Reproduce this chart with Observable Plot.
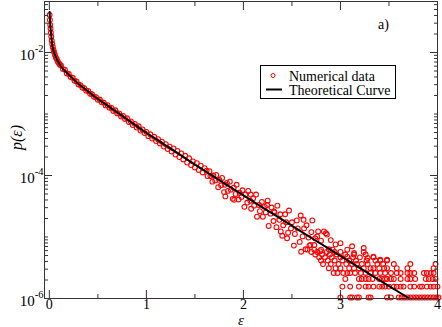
<!DOCTYPE html>
<html><head><meta charset="utf-8">
<script src="https://cdn.jsdelivr.net/npm/d3@7"></script>
<script src="https://cdn.jsdelivr.net/npm/@observablehq/plot@0.6"></script>
<style>
body{margin:0;background:#fff;}
#wrap{position:relative;width:442px;height:327px;}
#overlay{position:absolute;left:0;top:0;pointer-events:none;}
</style></head><body><div id="wrap"></div>
<script>
// ---- Theoretical curve (epsilon, log10 p) ----
const curveEps = [0.003,0.008,0.0175,0.03,0.052,0.08,0.121,0.2,0.292,0.38,0.464,0.55,0.636,0.72,0.807,0.89,0.979,1.15,1.323,1.45,1.557,1.667,1.976,2.3,2.588,2.9,3.103,3.4,3.71];
const curveLog10P = [-1.34,-1.52,-1.685,-1.88,-2.01,-2.12,-2.228,-2.36,-2.498,-2.61,-2.715,-2.81,-2.904,-2.998,-3.094,-3.187,-3.285,-3.46,-3.636,-3.77,-3.88,-3.99,-4.30,-4.62,-4.905,-5.21,-5.41,-5.70,-6.0];

// ---- Numerical data: [epsilon, log10 p] ----
const nearZero = [[0.003,-1.39],[0.006,-1.47],[0.009,-1.55],[0.012,-1.61],[0.016,-1.68],[0.02,-1.74],[0.025,-1.81],[0.03,-1.86],[0.036,-1.91],[0.043,-1.96],[0.05,-2.00],[0.058,-2.04],[0.067,-2.08],[0.077,-2.11],[0.088,-2.15],[0.1,-2.18],[0.11,-2.20]];
const band = [[0.12,-2.21],[0.14,-2.27],[0.16,-2.28],[0.18,-2.34],[0.20,-2.35],[0.22,-2.40],[0.24,-2.41],[0.26,-2.46],[0.28,-2.47],[0.30,-2.52],[0.32,-2.53],[0.34,-2.57],[0.36,-2.58],[0.38,-2.62],[0.40,-2.625],[0.42,-2.67],[0.44,-2.68],[0.46,-2.72],[0.48,-2.725],[0.50,-2.77],[0.52,-2.765],[0.54,-2.81],[0.56,-2.815],[0.58,-2.86],[0.60,-2.855],[0.62,-2.90],[0.64,-2.90],[0.66,-2.95],[0.68,-2.94],[0.70,-2.99],[0.72,-2.99],[0.74,-3.04],[0.76,-3.03],[0.78,-3.08],[0.80,-3.07],[0.82,-3.13],[0.84,-3.12],[0.86,-3.18],[0.88,-3.16],[0.90,-3.22],[0.92,-3.20],[0.94,-3.27],[0.96,-3.25],[0.98,-3.31],[1.00,-3.29],[1.02,-3.36],[1.04,-3.33],[1.06,-3.40],[1.08,-3.37],[1.10,-3.44],[1.12,-3.41],[1.14,-3.48],[1.16,-3.45],[1.18,-3.53],[1.20,-3.49],[1.22,-3.57],[1.24,-3.53],[1.26,-3.61],[1.28,-3.56],[1.30,-3.66],[1.32,-3.60],[1.34,-3.70],[1.36,-3.64],[1.38,-3.74],[1.40,-3.68],[1.42,-3.79],[1.44,-3.72],[1.46,-3.83],[1.48,-3.77],[1.50,-3.87],[1.52,-3.80],[1.54,-3.91],[1.56,-3.84],[1.58,-3.95],[1.60,-3.88]];
const spread = [[1.62,-3.92],[1.63,-4.01],[1.65,-3.93],[1.66,-4.01],[1.68,-4.10],[1.69,-4.00],[1.71,-4.08],[1.72,-3.99],[1.74,-4.19],[1.75,-4.07],[1.77,-4.16],[1.78,-4.04],[1.80,-4.27],[1.81,-4.15],[1.814,-4.34],[1.83,-4.12],[1.84,-4.25],[1.86,-4.10],[1.87,-4.23],[1.89,-4.38],[1.90,-4.20],[1.905,-4.395],[1.92,-4.30],[1.93,-4.15],[1.95,-4.39],[1.96,-4.28],[1.98,-4.35],[1.99,-4.24],[2.01,-4.51],[2.02,-4.31],[2.04,-4.44],[2.05,-4.25],[2.07,-4.41],[2.075,-4.31],[2.08,-4.54],[2.10,-4.37],[2.11,-4.49],[2.13,-4.31],[2.14,-4.67],[2.16,-4.48],[2.17,-4.58],[2.19,-4.43],[2.20,-4.67],[2.22,-4.51],[2.23,-4.60],[2.244,-4.48],[2.25,-4.41],[2.26,-4.82],[2.28,-4.62],[2.29,-4.52],[2.31,-4.74],[2.315,-4.585],[2.32,-4.60],[2.34,-4.84],[2.35,-4.49],[2.37,-4.72],[2.38,-4.63],[2.385,-4.91],[2.40,-4.98],[2.41,-4.81],[2.43,-4.63],[2.44,-4.76],[2.45,-5.02],[2.46,-4.93],[2.47,-4.57],[2.49,-4.86],[2.50,-4.76],[2.52,-5.14],[2.53,-4.95],[2.55,-4.73],[2.56,-4.86],[2.58,-5.08],[2.59,-4.65],[2.595,-5.24],[2.61,-4.99],[2.62,-4.72],[2.625,-4.86],[2.64,-5.20],[2.65,-4.81],[2.67,-5.01],[2.68,-5.14],[2.69,-5.13],[2.70,-4.92],[2.71,-4.73],[2.73,-5.13],[2.74,-5.02],[2.76,-4.99],[2.77,-4.91],[2.79,-5.23],[2.80,-5.06],[2.83,-4.91],[2.85,-4.94],[2.86,-4.96],[2.88,-5.20],[2.90,-5.05],[2.95,-5.12],[3.0,-5.10],[3.12,-5.15],[3.24,-5.18],[3.07,-5.32],[3.14,-5.26],[3.28,-5.34],[3.34,-5.32],[3.41,-5.37],[3.48,-5.37]];
// low-count tail: each row is one histogram level
const tailLevelP = [1.04e-6,1.56e-6,2.08e-6,2.60e-6,3.11e-6,3.63e-6,4.15e-6,4.67e-6,5.19e-6,5.71e-6,6.23e-6];
const tailLevelEps = [
  [3.00,3.10,3.12,3.17,3.19,3.29,3.31,3.48,3.52,3.60,3.63,3.66,3.69,3.72,3.75,3.78,3.81,3.84,3.87,3.90,3.93,3.96,3.99,4.01],
  [3.02,3.10,3.19,3.26,3.29,3.34,3.40,3.43,3.46,3.50,3.55,3.58,3.62,3.65,3.72,3.76,3.82,3.84,3.89,3.93,3.96,4.00],
  [3.05,3.19,3.22,3.26,3.29,3.33,3.40,3.43,3.46,3.48,3.52,3.55,3.62,3.69,3.72,3.77,3.88,3.91,3.95,3.98],
  [2.93,2.97,3.03,3.07,3.10,3.15,3.21,3.26,3.31,3.36,3.41,3.46,3.52,3.58,3.62,3.69,3.72,3.76,3.86,3.89,3.93,3.96],
  [2.88,2.95,3.00,3.09,3.14,3.19,3.24,3.31,3.34,3.40,3.45,3.48,3.58,3.69,3.96],
  [2.82,2.90,2.98,3.06,3.12,3.17,3.22,3.28,3.38,3.44,3.55,3.72,3.98],
  [2.80,2.87,2.94,3.02,3.09,3.16,3.27,3.36,3.41,3.48],
  [2.78,2.84,2.91,3.00,3.13,3.20,3.34],
  [2.74,2.81,2.89,2.96,3.05,3.14,3.26],
  [2.70,2.76,2.86,2.94,3.00,3.24],
  [2.66,2.73,2.80,2.92,3.07]
];

// ---- Axes ----
const xMajorTicks = [0,1,2,3,4];
const xMinorTicks = [0.5,1.5,2.5,3.5];
const yMajorTicks = [1e-6,1e-4,1e-2];
const yMax = 0.0675;
const yMinorTicks = [];
for (let k = -6; k <= -2; k++) for (let n = 1; n <= 9; n++) {
  const v = n * Math.pow(10, k);
  if (v <= yMax && !(n === 1 && k % 2 === 0)) yMinorTicks.push(v);
}
const legendLabels = ["Numerical data", "Theoretical Curve"];

const points = [...nearZero, ...band, ...spread].map(([e, l]) => ({eps: e, p: Math.pow(10, l)}));
tailLevelP.forEach((p, i) => tailLevelEps[i].forEach(e => points.push({eps: e, p})));
const curve = curveEps.map((e, i) => ({eps: e, p: Math.pow(10, curveLog10P[i])}));

const tickStroke = "#333";
const chart = Plot.plot({
  width: 442, height: 327,
  marginLeft: 44, marginRight: 5, marginTop: 1, marginBottom: 29,
  style: {fontFamily: "'Liberation Serif', 'Times New Roman', serif", fontSize: "15px", color: "#000", background: "#fff"},
  x: {domain: [-0.05, 4]},
  y: {type: "log", domain: [1e-6, yMax]},
  marks: [
    Plot.dot(points, {x: "eps", y: "p", r: 2.4, stroke: "#ff0000", strokeWidth: 1.1, fill: "none"}),
    Plot.line(curve, {x: "eps", y: "p", stroke: "#000", strokeWidth: 2, curve: "monotone-x"}),
    // inward ticks
    Plot.axisX({anchor: "bottom", ticks: xMajorTicks, tickSize: 8, dy: -8, tickFormat: () => "", label: null, stroke: tickStroke}),
    Plot.axisX({anchor: "bottom", ticks: xMinorTicks, tickSize: 4, dy: -4, tickFormat: () => "", label: null, stroke: tickStroke}),
    Plot.axisX({anchor: "top", ticks: xMajorTicks, tickSize: 8, dy: 8, tickFormat: () => "", label: null, stroke: tickStroke}),
    Plot.axisX({anchor: "top", ticks: xMinorTicks, tickSize: 4, dy: 4, tickFormat: () => "", label: null, stroke: tickStroke}),
    Plot.axisY({anchor: "left", ticks: yMajorTicks, tickSize: 8, dx: 8, tickFormat: () => "", label: null, stroke: tickStroke}),
    Plot.axisY({anchor: "left", ticks: yMinorTicks, tickSize: 4, dx: 4, tickFormat: () => "", label: null, stroke: tickStroke}),
    Plot.axisY({anchor: "right", ticks: yMajorTicks, tickSize: 8, dx: -8, tickFormat: () => "", label: null, stroke: tickStroke}),
    Plot.axisY({anchor: "right", ticks: yMinorTicks, tickSize: 4, dx: -4, tickFormat: () => "", label: null, stroke: tickStroke}),
    // tick labels
    Plot.axisX({anchor: "bottom", ticks: xMajorTicks, tickSize: 0, tickPadding: 1, fontSize: 14, label: null, tickFormat: d => String(d)}),
    Plot.axisY({anchor: "left", ticks: yMajorTicks, tickSize: 0, tickPadding: 1, dy: 3, fontSize: 15, label: null,
      tickFormat: d => "10^" + Math.round(Math.log10(d))}),
    Plot.frame({stroke: "#333"}),
    // axis titles
    Plot.text(["ε"], {frameAnchor: "bottom", dy: 26, lineAnchor: "bottom", fontSize: 15, fontStyle: "italic"}),
    Plot.text(["p(ε)"], {frameAnchor: "left", dx: -28, rotate: -90, fontSize: 16, fontStyle: "italic"})
  ]
});

// superscript exponents on the y tick labels
const NS = "http://www.w3.org/2000/svg";
chart.querySelectorAll("text").forEach(t => {
  const m = /^10\^(.+)$/.exec(t.textContent);
  if (m) {
    t.textContent = "10";
    const ts = document.createElementNS(NS, "tspan");
    ts.setAttribute("dy", "-8");
    ts.setAttribute("font-size", "10.5");
    ts.textContent = m[1];
    t.appendChild(ts);
  }
});

const wrap = document.getElementById("wrap");
wrap.appendChild(chart);

// legend and panel tag
const ov = d3.select(wrap).append("svg").attr("id", "overlay").attr("width", 442).attr("height", 327)
  .style("font-family", "'Liberation Serif', 'Times New Roman', serif");
ov.append("text").attr("x", 378).attr("y", 28.5).attr("font-size", 14).text("a)");
ov.append("rect").attr("x", 260.5).attr("y", 65.5).attr("width", 135).attr("height", 33)
  .attr("fill", "#fff").attr("stroke", "#000");
ov.append("circle").attr("cx", 273).attr("cy", 75.5).attr("r", 2).attr("fill", "none").attr("stroke", "#ff0000");
ov.append("line").attr("x1", 266).attr("x2", 282).attr("y1", 89.5).attr("y2", 89.5).attr("stroke", "#000").attr("stroke-width", 2);
ov.append("text").attr("x", 289).attr("y", 80.5).attr("font-size", 14).text(legendLabels[0]);
ov.append("text").attr("x", 289).attr("y", 94.5).attr("font-size", 14).text(legendLabels[1]);
</script>
</body></html>
